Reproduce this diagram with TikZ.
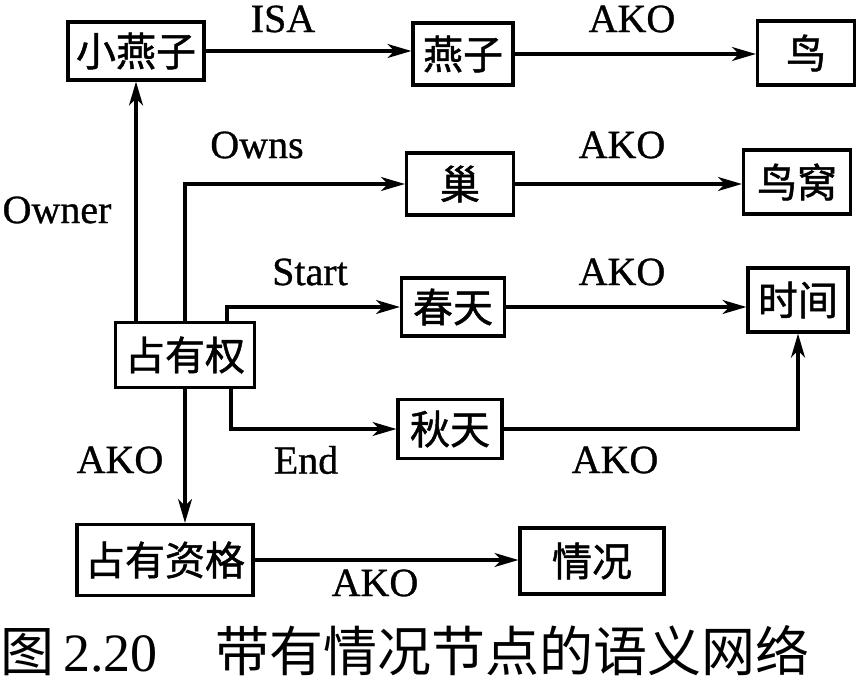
\documentclass[tikz,border=0pt]{standalone}
\usepackage{fontspec}
\setmainfont{Liberation Serif}
\newfontfamily\cjk[FakeBold=1.2]{Noto Sans CJK SC}
\newfontfamily\cjkcap{Noto Sans CJK SC}
\newfontfamily\labfont[FakeBold=0.8]{Liberation Serif}
\usetikzlibrary{arrows.meta}
\begin{document}
\begin{tikzpicture}[x=1pt,y=-1pt,
  box/.style={draw,line width=3.2pt,inner sep=0pt,font=\cjk\fontsize{40}{46}\selectfont},
  arr/.style={line width=3.2pt,-{Stealth[length=24pt,width=14pt,inset=7pt]}},
  lab/.style={inner sep=0pt,font=\labfont\fontsize{40}{44}\selectfont}]
\useasboundingbox (0,0) rectangle (856,687);
% nodes
\node[box,minimum width=136pt,minimum height=58pt] (xyz) at (136,51) {小燕子};
\node[box,minimum width=100pt,minimum height=62pt] (yz) at (463,54) {燕子};
\node[box,minimum width=97pt,minimum height=64pt] (niao) at (806,53) {鸟};
\node[box,minimum width=107pt,minimum height=62pt] (chao) at (460,184) {巢};
\node[box,minimum width=107pt,minimum height=64pt] (wo) at (797,182) {鸟窝};
\node[box,minimum width=139pt,minimum height=65pt] (zyq) at (185,355) {占有权};
\node[box,minimum width=103pt,minimum height=58pt] (cht) at (453,307) {春天};
\node[box,minimum width=100pt,minimum height=64pt] (sj) at (798,300) {时间};
\node[box,minimum width=104pt,minimum height=59pt] (qt) at (450,429) {秋天};
\node[box,minimum width=176pt,minimum height=71pt] (zyzg) at (165,560) {占有资格};
\node[box,minimum width=144pt,minimum height=66pt] (qk) at (592,561) {情况};
% connectors
\draw[arr] (xyz.east) -- (yz.west |- xyz.east);
\draw[arr] (yz.east) -- (niao.west |- yz.east);
\draw[arr] (zyq.north -| xyz.south) -- (xyz.south);
\draw[arr] (zyq.north) |- (chao.west);
\draw[arr] (chao.east) -- (wo.west |- chao.east);
\draw[arr] ([xshift=42pt]zyq.north) |- (cht.west);
\draw[arr] (cht.east) -- (sj.west |- cht.east);
\draw[arr] ([xshift=46pt]zyq.south) |- (qt.west);
\draw[arr] (qt.east) -| (sj.south);
\draw[arr] (zyq.south) -- (zyq.south |- zyzg.north);
\draw[arr] (zyzg.east) -- (qk.west |- zyzg.east);
% labels
\node[lab] (l1) at (283,19) {ISA};
\node[lab] (l2) at (632,19) {AKO};
\node[lab] (l3) at (257,145) {Owns};
\node[lab] (l4) at (57,210) {Owner};
\node[lab] (l5) at (622,145) {AKO};
\node[lab] (l6) at (310,272) {Start};
\node[lab] (l7) at (622,272) {AKO};
\node[lab] (l8) at (120,460) {AKO};
\node[lab] (l9) at (306,460) {End};
\node[lab] (l10) at (615,460) {AKO};
\node[lab] (l11) at (375,583) {AKO};
% caption
\node[inner sep=0pt,anchor=west,font=\fontsize{54}{58}\selectfont] (cap) at (0,651) {{\cjkcap 图}\,2.20\hspace{58pt}{\cjkcap 带有情况节点的语义网络}};
\end{tikzpicture}
\end{document}
